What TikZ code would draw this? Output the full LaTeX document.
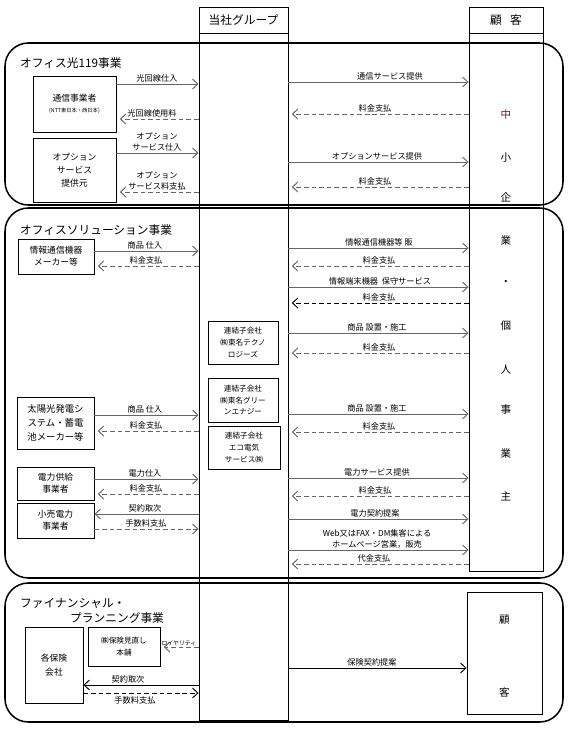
\documentclass[tikz,border=0pt]{standalone}
\usepackage{fontspec}
\setmainfont{Noto Sans CJK JP}
\usetikzlibrary{arrows.meta}

\begin{document}
\begin{tikzpicture}[x=0.03cm, y=-0.03cm,
  box/.style={draw, line width=0.8pt, align=center, inner sep=1pt, font=\fontsize{7.5}{11}\selectfont},
  col/.style={draw, line width=0.8pt},
  head/.style={col, font=\fontsize{10}{12}\selectfont},
  ttl/.style={anchor=west, inner sep=0pt, font=\fontsize{10}{11}\selectfont},
  lbl/.style={anchor=south, inner sep=1pt, align=center, font=\fontsize{7}{10}\selectfont},
  custch/.style={font=\fontsize{9}{10}\selectfont},
  give/.style={draw=black!60, line width=0.8pt, -{Straight Barb[length=1.6mm,width=3mm]}},
  pay/.style={give, dash pattern=on 4pt off 2.5pt},
  back/.style={shorten >=1mm},
  frame/.style={line width=1.3pt, rounded corners=0.7cm}]
  \useasboundingbox (0,0) rectangle (569,730);

  % business frames
  \draw[frame] (5,43) rectangle (563,205);
  \draw[frame] (5,208) rectangle (563,578);
  \draw[frame] (5,583) rectangle (563,722);

  % columns
  \node[head, minimum width=2.67cm, minimum height=0.78cm] at (243.5,20) (grph) {当社グループ};
  \node[head, minimum width=2.22cm, minimum height=0.78cm] at (506,20) (custh) {顧\hspace{0.7em}客};
  \node[col, minimum width=2.67cm, minimum height=20.61cm] at (243.5,376.5) (grp) {};
  \node[col, minimum width=2.22cm, minimum height=16.14cm] at (506,302) (cust) {};
  \node[col, minimum width=2.25cm, minimum height=3.66cm] at (504.5,653) (cust2) {};

  \node[custch, text={rgb,255:red,110;green,20;blue,40}] at (506,114) (c114) {中};
  \foreach \ch/\yy in {小/158, 企/197, 業/240, ・/283, 個/326, 人/370, 事/410, 業/453, 主/496}
    \node[custch] at (506,\yy) (c\yy) {\ch};
  \node[custch] at (504.5,620) (k1) {顧};
  \node[custch] at (504.5,692) (k2) {客};

  % titles
  \node[ttl] at (20,63) (t1) {オフィス光119事業};
  \node[ttl] at (20,230) (t2) {オフィスソリューション事業};
  \node[ttl] at (20,603) (t3a) {ファイナンシャル・};
  \node[ttl] at (70,618) (t3b) {プランニング事業};

  % partners
  \node[box, minimum width=2.49cm, minimum height=1.68cm] at (74.5,104) (tel) {通信事業者\\[-2pt]{\fontsize{4.5}{5}\selectfont (NTT東日本・西日本)}};
  \node[box, minimum width=2.49cm, minimum height=1.92cm] at (74.5,170) (opt) {オプション\\サービス\\提供元};
  \node[box, minimum width=2.28cm, minimum height=1.05cm, font=\fontsize{7.5}{10}\selectfont] at (56,256.5) (ict) {情報通信機器\\メーカー等};
  \node[box, minimum width=2.31cm, minimum height=1.56cm, font=\fontsize{8}{12}\selectfont] at (55.5,423) (solar) {太陽光発電シ\\ステム・蓄電\\池メーカー等};
  \node[box, minimum width=2.31cm, minimum height=0.99cm, font=\fontsize{7.5}{10}\selectfont] at (55.5,483.5) (pwr) {電力供給\\事業者};
  \node[box, minimum width=2.31cm, minimum height=1.05cm, font=\fontsize{7.5}{10}\selectfont] at (55.5,520.5) (retail) {小売電力\\事業者};
  \node[box, minimum width=1.74cm, minimum height=2.28cm, font=\fontsize{7.5}{12}\selectfont] at (54,665) (ins) {各保険\\会社};
  \node[box, minimum width=2.16cm, minimum height=1.17cm, font=\fontsize{6.5}{10}\selectfont] at (124,646.5) (mhr) {㈱保険見直し\\本舗};

  % subsidiaries
  \node[box, minimum width=2.1cm, minimum height=1.29cm, font=\fontsize{6.5}{10}\selectfont] at (243,342.5) (tech) {連結子会社\\㈱東名テクノ\\ロジーズ};
  \node[box, minimum width=2.1cm, minimum height=1.32cm, font=\fontsize{6.5}{10}\selectfont] at (243,400) (green) {連結子会社\\㈱東名グリー\\ンエナジー};
  \node[box, minimum width=2.16cm, minimum height=1.29cm, font=\fontsize{6.5}{10}\selectfont] at (244,447.5) (eco) {連結子会社\\エコ電気\\サービス㈱};

  % office hikari 119
  \node[lbl] at (157,84) (a1) {光回線仕入};
  \draw[give] (tel.east |- a1.south) -- (grp.west |- a1.south);
  \node[lbl] at (152,119) (a2) {光回線使用料};
  \draw[pay,back] (grp.west |- a2.south) -- (tel.east |- a2.south);
  \node[lbl] at (157,153) (a3) {オプション\\サービス仕入};
  \draw[give] (opt.east |- a3.south) -- (grp.west |- a3.south);
  \node[lbl] at (157,192) (a4) {オプション\\サービス料支払};
  \draw[pay,back] (grp.west |- a4.south) -- (opt.east |- a4.south);

  \node[lbl] at (390,82) (b1) {通信サービス提供};
  \draw[give] (grp.east |- b1.south) -- (cust.west |- b1.south);
  \node[lbl] at (375,114) (b2) {料金支払};
  \draw[pay,back] (cust.west |- b2.south) -- (grp.east |- b2.south);
  \node[lbl] at (377,162) (b3) {オプションサービス提供};
  \draw[give] (grp.east |- b3.south) -- (cust.west |- b3.south);
  \node[lbl] at (375,187) (b4) {料金支払};
  \draw[pay,back] (cust.west |- b4.south) -- (grp.east |- b4.south);

  % office solution
  \node[lbl] at (145,251) (c1) {商品 仕入};
  \draw[give] (ict.east |- c1.south) -- (grp.west |- c1.south);
  \node[lbl] at (146,266) (c2) {料金支払};
  \draw[pay,back] (grp.west |- c2.south) -- (ict.east |- c2.south);

  \node[lbl] at (379,248) (d1) {情報通信機器等 販};
  \draw[give] (grp.east |- d1.south) -- (cust.west |- d1.south);
  \node[lbl] at (379,266) (d2) {料金支払};
  \draw[pay,back] (cust.west |- d2.south) -- (grp.east |- d2.south);
  \node[lbl] at (380,287) (d3) {情報端末機器\ \ 保守サービス};
  \draw[give] (grp.east |- d3.south) -- (cust.west |- d3.south);
  \node[lbl] at (379,303) (d4) {料金支払};
  \draw[pay,back,draw=black] (cust.west |- d4.south) -- (grp.east |- d4.south);
  \node[lbl] at (377,333) (d5) {商品 設置・施工};
  \draw[give] (grp.east |- d5.south) -- (cust.west |- d5.south);
  \node[lbl] at (379,353) (d6) {料金支払};
  \draw[pay,back] (cust.west |- d6.south) -- (grp.east |- d6.south);

  \node[lbl] at (145,415) (e1) {商品 仕入};
  \draw[give] (solar.east |- e1.south) -- (grp.west |- e1.south);
  \node[lbl] at (146,431) (e2) {料金支払};
  \draw[pay,back] (grp.west |- e2.south) -- (solar.east |- e2.south);

  \node[lbl] at (377,414) (f1) {商品 設置・施工};
  \draw[give] (grp.east |- f1.south) -- (cust.west |- f1.south);
  \node[lbl] at (379,432) (f2) {料金支払};
  \draw[pay,back] (cust.west |- f2.south) -- (grp.east |- f2.south);
  \node[lbl] at (377,478) (f3) {電力サービス提供};
  \draw[give] (grp.east |- f3.south) -- (cust.west |- f3.south);
  \node[lbl] at (375,496) (f4) {料金支払};
  \draw[pay,back] (cust.west |- f4.south) -- (grp.east |- f4.south);
  \node[lbl] at (375,519) (f5) {電力契約提案};
  \draw[give] (grp.east |- f5.south) -- (cust.west |- f5.south);
  \node[lbl] at (377,550) (f6) {Web又はFAX・DM集客による\\ホームページ営業，販売};
  \draw[give] (grp.east |- f6.south) -- (cust.west |- f6.south);
  \node[lbl] at (374,564) (f7) {代金支払};
  \draw[pay,back] (cust.west |- f7.south) -- (grp.east |- f7.south);

  \node[lbl] at (145,479) (g1) {電力仕入};
  \draw[give] (pwr.east |- g1.south) -- (grp.west |- g1.south);
  \node[lbl] at (146,494) (g2) {料金支払};
  \draw[pay,back] (grp.west |- g2.south) -- (pwr.east |- g2.south);
  \node[lbl] at (145,514) (g3) {契約取次};
  \draw[give] (grp.west |- g3.south) -- (retail.east |- g3.south);
  \node[lbl] at (146,529) (g4) {手数料支払};
  \draw[pay] (retail.east |- g4.south) -- (grp.west |- g4.south);

  % financial planning
  \node[lbl, font=\fontsize{5}{6}\selectfont] at (179,647) (h1) {ロイヤリティ};
  \draw[pay,back] (grp.west |- h1.south) -- (mhr.east |- h1.south);
  \node[lbl] at (128,685) (h2) {契約取次};
  \draw[give,draw=black] (grp.west |- h2.south) -- (ins.east |- h2.south);
  \node[lbl, anchor=north, inner ysep=3pt] at (135,693) (h3) {手数料支払};
  \draw[pay,draw=black] (ins.east |- h3.north) -- (grp.west |- h3.north);
  \node[lbl] at (372,668) (h4) {保険契約提案};
  \draw[give,draw=black] (grp.east |- h4.south) -- (cust2.west |- h4.south);
\end{tikzpicture}
\end{document}
